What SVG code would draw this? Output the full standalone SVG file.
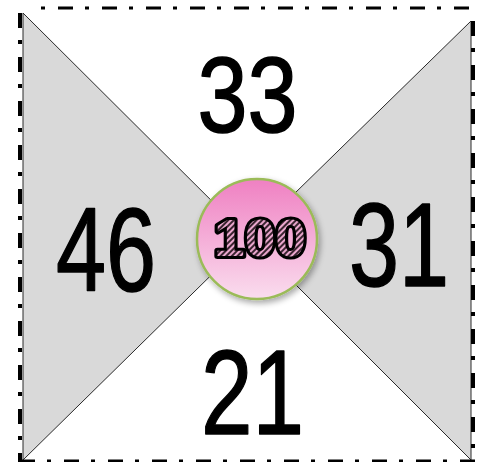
<svg xmlns="http://www.w3.org/2000/svg" width="481" height="462" viewBox="0 0 481 462">
  <defs>
    <linearGradient id="pinkGrad" x1="0" y1="0" x2="0" y2="1">
      <stop offset="0" stop-color="#EF80C2"/>
      <stop offset="1" stop-color="#FADDEE"/>
    </linearGradient>
    <pattern id="hatch" width="4" height="4" patternUnits="userSpaceOnUse" patternTransform="rotate(45)">
      <rect width="4" height="4" fill="#E9A6CC"/>
      <rect width="2" height="4" fill="#3A2430"/>
    </pattern>
    <filter id="shadow" x="-20%" y="-20%" width="150%" height="150%">
      <feGaussianBlur in="SourceAlpha" stdDeviation="3"/>
      <feOffset dx="2" dy="3" result="b"/>
      <feComponentTransfer><feFuncA type="linear" slope="0.35"/></feComponentTransfer>
      <feMerge><feMergeNode/><feMergeNode in="SourceGraphic"/></feMerge>
    </filter>
  </defs>
  <style>
    .tri { fill: #D9D9D9; stroke: #2A2A2A; stroke-width: 1; }
    .border { fill: none; stroke: #000; stroke-dasharray: 15 12 4 13; }
    .num { font-family: "Liberation Sans", Arial, sans-serif; fill: #000; stroke: #000; stroke-width: 1.5; stroke-linejoin: round; text-anchor: middle; }
  </style>
  <rect width="481" height="462" fill="#FFFFFF"/>
  <g id="regions">
    <polygon class="tri" points="23,13 23,460 249,238"/>
    <polygon class="tri" points="471,21 471,460 249,238"/>
  </g>
  <g id="border">
    <line class="border" x1="30" y1="8" x2="476" y2="8" stroke-width="3" stroke-dashoffset="16"/>
    <line class="border" x1="20" y1="13" x2="20" y2="462" stroke-width="4"/>
    <line class="border" x1="473" y1="21" x2="473" y2="462" stroke-width="4"/>
    <line class="border" x1="20" y1="461" x2="476" y2="461" stroke-width="3"/>
  </g>
  <g id="top-33">
    <text class="num" x="247.5" y="132" font-size="107" textLength="100" lengthAdjust="spacingAndGlyphs">33</text>
  </g>
  <g id="left-46">
    <text class="num" x="106" y="291" font-size="119" textLength="100" lengthAdjust="spacingAndGlyphs">46</text>
  </g>
  <g id="right-31">
    <text class="num" x="399" y="286" font-size="119" textLength="100" lengthAdjust="spacingAndGlyphs">31</text>
  </g>
  <g id="bottom-21">
    <text class="num" x="252.5" y="434" font-size="121" textLength="103" lengthAdjust="spacingAndGlyphs">21</text>
  </g>
  <g id="center-100">
    <circle cx="257" cy="239" r="60" fill="url(#pinkGrad)" stroke="#9BBB59" stroke-width="2.5" filter="url(#shadow)"/>
    <text x="260" y="256" font-family="Liberation Sans, Arial, sans-serif" font-weight="bold" font-size="52" text-anchor="middle" textLength="92" lengthAdjust="spacingAndGlyphs" fill="url(#hatch)" stroke="#000" stroke-width="6" stroke-linejoin="round" paint-order="stroke">100</text>
  </g>
</svg>
